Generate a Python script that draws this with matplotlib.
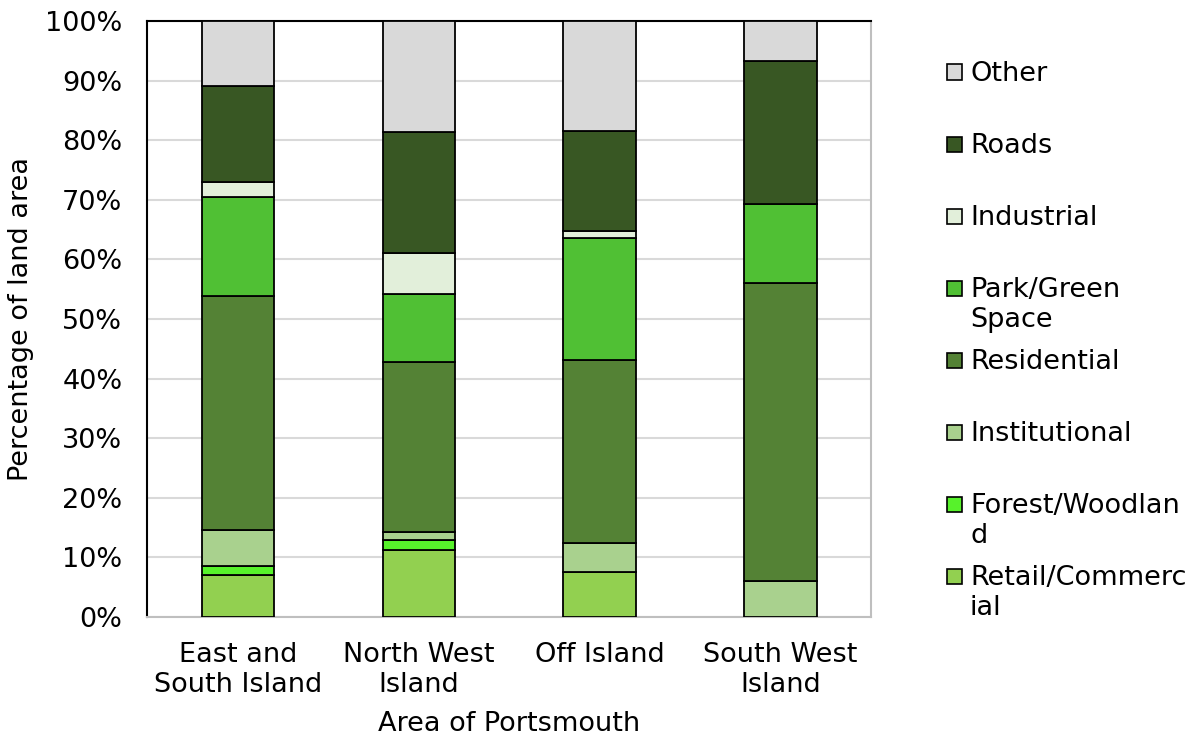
import numpy as np
import matplotlib.pyplot as plt
from matplotlib.patches import Rectangle

# Land use share (%) per area, bottom to top of each stack
areas = ['East and\nSouth Island', 'North West\nIsland', 'Off Island', 'South West\nIsland']
categories = ['Retail/Commerc\nial', 'Forest/Woodlan\nd', 'Institutional', 'Residential',
              'Park/Green\nSpace', 'Industrial', 'Roads', 'Other']
retail = [7.0, 11.3, 7.6, 0.0]
forest = [1.6, 1.6, 0.0, 0.0]
institutional = [6.0, 1.3, 4.9, 6.1]
residential = [39.3, 28.6, 30.6, 49.9]
park = [16.5, 11.4, 20.5, 13.3]
industrial = [2.6, 6.8, 1.2, 0.0]
roads = [16.1, 20.4, 16.8, 24.0]
other = [10.9, 18.6, 18.4, 6.7]

series = [retail, forest, institutional, residential, park, industrial, roads, other]
colors = ['#92d050', '#57f22b', '#a9d18e', '#548235',
          '#50c034', '#e2efda', '#385723', '#d9d9d9']

plt.rcParams['font.family'] = ['Verdana', 'DejaVu Sans']
fs = 19.5

fig = plt.figure(figsize=(11.9, 7.4), dpi=100)
ax = fig.add_axes([0.1238, 0.1662, 0.6082, 0.8054])

x = np.arange(len(areas))
bottom = np.zeros(len(areas))
for vals, col in zip(series, colors):
    vals = np.array(vals)
    ax.bar(x, vals, 0.4, bottom=bottom, color=col, edgecolor='black', linewidth=1.3, zorder=3)
    bottom += vals

ax.set_xlim(-0.5, 3.5)
ax.set_ylim(0, 100)
ax.set_yticks(np.arange(0, 101, 10))
ax.set_yticklabels([f'{v}%' for v in range(0, 101, 10)], fontsize=fs)
ax.set_xticks(x)
ax.set_xticklabels(areas, fontsize=fs, linespacing=1.22)
ax.tick_params(axis='both', length=0)
ax.tick_params(axis='y', pad=18)
ax.tick_params(axis='x', pad=18)
ax.yaxis.grid(True, color='#d9d9d9', linewidth=1.5, zorder=0)
ax.set_axisbelow(True)

for side in ['top', 'left']:
    ax.spines[side].set_color('black')
    ax.spines[side].set_linewidth(1.5)
for side in ['right', 'bottom']:
    ax.spines[side].set_color('#bfbfbf')
    ax.spines[side].set_linewidth(1.5)

ax.set_xlabel('Area of Portsmouth', fontsize=fs, labelpad=9)
ax.set_ylabel('Percentage of land area', fontsize=fs, labelpad=8)

# Legend drawn top to bottom, matching the stacking order reversed
W, H = 1190, 740
for i, (lab, col) in enumerate(zip(categories[::-1], colors[::-1])):
    yc = 72 + 72 * i
    fig.patches.append(Rectangle((947 / W, 1 - (yc + 7.5) / H), 15 / W, 15 / H,
                                 transform=fig.transFigure, facecolor=col,
                                 edgecolor='black', linewidth=1.2))
    fig.text(970 / W, 1 - (yc - 11) / H, lab, fontsize=fs, va='top', ha='left',
             linespacing=1.22)

fig.savefig('out.png', dpi=100)
